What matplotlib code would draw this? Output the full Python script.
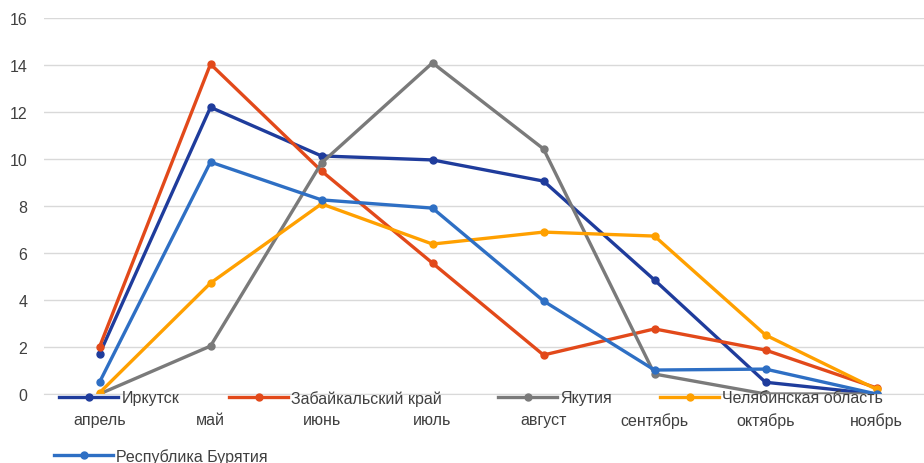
import matplotlib
matplotlib.use('Agg')
import matplotlib.pyplot as plt

plt.rcParams['font.family'] = ['Liberation Sans', 'DejaVu Sans']

months = ['апрель', 'май', 'июнь', 'июль', 'август', 'сентябрь', 'октябрь', 'ноябрь']
irkutsk = [1.7, 12.2, 10.13, 9.96, 9.06, 4.85, 0.5, 0.0]
zabaykalsky = [2.0, 14.04, 9.49, 5.57, 1.66, 2.77, 1.87, 0.26]
yakutia = [0.0, 2.04, 9.83, 14.09, 10.43, 0.85, 0.0, 0.0]
chelyabinsk = [0.05, 4.72, 8.09, 6.38, 6.89, 6.72, 2.51, 0.2]
buryatia = [0.5, 9.87, 8.26, 7.91, 3.96, 1.02, 1.06, 0.0]

series = [
    ('Иркутск', irkutsk, '#1f3c9c'),
    ('Забайкальский край', zabaykalsky, '#e2491a'),
    ('Якутия', yakutia, '#7a7a7a'),
    ('Челябинская область', chelyabinsk, '#ffa000'),
    ('Республика Бурятия', buryatia, '#2e6fc4'),
]
# legend entry anchors (px) - excel put them in odd places
leg_pos = [(59, 399), (229, 399), (498, 399), (660, 399), (54, 457)]

fig = plt.figure(figsize=(9.24, 4.64), dpi=100)
ax = fig.add_axes([44 / 924, 1 - 395 / 464, 880 / 924, 376 / 464])

x = range(len(months))
for (name, vals, col), (px, py) in zip(series, leg_pos):
    h, = ax.plot(x, vals, color=col, lw=2.4, marker='o', ms=5, label=name,
                 solid_joinstyle='round')
    leg = fig.legend([h], [name], loc='center left',
                     bbox_to_anchor=(px / 924, 1 - py / 464), frameon=False,
                     fontsize=11.5, handlelength=3.7, handletextpad=0.2,
                     borderaxespad=0, borderpad=0, labelcolor='#404040')

ax.set_ylim(0, 16)
ax.set_yticks(range(0, 17, 2))
ax.set_xlim(-0.5, -0.5 + 880 / 111)
ax.set_xticks(list(x))
ax.set_xticklabels(months)
ax.grid(axis='y', color='#d9d9d9', lw=1)
ax.set_axisbelow(True)
for s in ['top', 'right', 'left']:
    ax.spines[s].set_visible(False)
ax.spines['bottom'].set_color('#d9d9d9')
ax.tick_params(axis='both', length=0, colors='#404040', labelsize=11.5)
ax.tick_params(axis='x', pad=13)
ax.tick_params(axis='y', pad=12)

fig.savefig('out.png', dpi=100)
